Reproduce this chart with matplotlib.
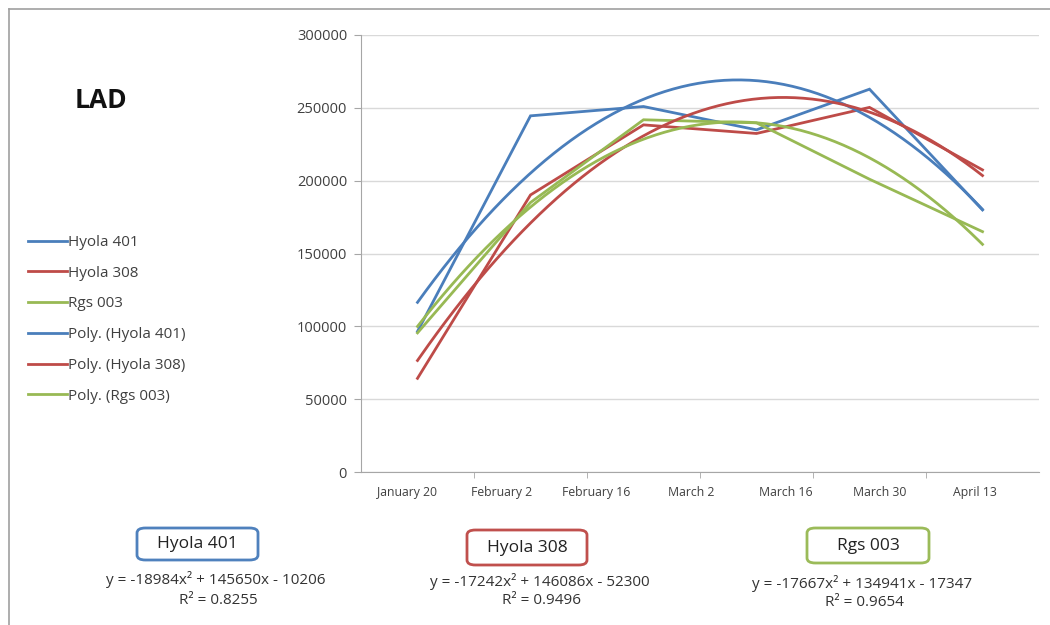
import numpy as np
import matplotlib as mpl
mpl.use('Agg')
import matplotlib.pyplot as plt
from matplotlib.patches import FancyBboxPatch
from matplotlib.lines import Line2D

# %%
# data
categories = ['January 20', 'February 2', 'February 16', 'March 2', 'March 16', 'March 30', 'April 13']
series_names = ['Hyola 401', 'Hyola 308', 'Rgs 003']
hyola_401 = [96500, 244500, 250900, 234900, 262800, 179900]
hyola_308 = [64300, 190200, 238300, 232400, 250300, 207400]
rgs_003 = [95500, 185000, 241800, 239700, 201000, 165000]
# trendline coefficients as printed on the chart (a*x^2 + b*x + c)
poly_a = [-18984, -17242, -17667]
poly_b = [145650, 146086, 134941]
poly_c = [-10206, -52300, -17347]
r_squared = ['0.8255', '0.9496', '0.9654']
colors = ['#4a7ebb', '#be4b48', '#98b954']
box_colors = ['#4f81bd', '#c0504d', '#9bbb59']

mpl.rcParams.update({'font.family': ['Open Sans', 'DejaVu Sans'],
                     'font.size': 9})
W, H = 1050, 625


def fx(px):
    return px / W


def fy(py):
    return 1 - py / H


fig = plt.figure(figsize=(10.5, 6.25), dpi=100)
ax = fig.add_axes([fx(361), fy(472), fx(1039) - fx(361), fy(35) - fy(472)])

x = np.arange(1, len(hyola_401) + 1)
xs = np.linspace(1, len(hyola_401), 200)
for vals, name, col in zip([hyola_401, hyola_308, rgs_003], series_names, colors):
    ax.plot(x, vals, '-', color=col, lw=2, label=name, solid_joinstyle='miter')
for a, b, c, name, col in zip(poly_a, poly_b, poly_c, series_names, colors):
    ax.plot(xs, a * xs ** 2 + b * xs + c, '-', color=col, lw=2, label='Poly. ({})'.format(name))

ax.set_xlim(0.5, len(hyola_401) + 0.5)
ax.set_ylim(0, 300000)
ax.set_yticks(np.arange(0, 300001, 50000))
ax.yaxis.grid(True, color='#d9d9d9', lw=1)
ax.set_axisbelow(True)
for s in ['top', 'right']:
    ax.spines[s].set_visible(False)
for s in ['left', 'bottom']:
    ax.spines[s].set_color('#a6a6a6')
ax.tick_params(axis='y', length=5, color='#a6a6a6', labelcolor='#404040', labelsize=10.5, pad=5)

# category boundary tick marks, labels spread evenly under the axis
ax.set_xticks(np.arange(1.5, len(hyola_401), 1.0), minor=True)
ax.tick_params(axis='x', which='minor', length=4, color='#a6a6a6')
ax.set_xticks(np.linspace(0.91, 5.93, len(categories)))
ax.set_xticklabels(categories)
ax.tick_params(axis='x', which='major', length=0, labelsize=8.8, labelcolor='#404040', pad=10)

ax.legend(loc='upper left', bbox_to_anchor=(fx(28), fy(235)), bbox_transform=fig.transFigure,
          frameon=False, fontsize=11, handlelength=2.55, handletextpad=0.07,
          labelspacing=1.03, borderaxespad=0, borderpad=0, labelcolor='#404040')

fig.text(fx(75), fy(100), 'LAD', fontsize=19, fontweight='bold', va='center', ha='left', color='#111111')

# outer frame (left and top edges)
fig.add_artist(Line2D([fx(9), fx(9)], [0, fy(9)], color='#a0a0a0', lw=1.2))
fig.add_artist(Line2D([fx(9), 1], [fy(9), fy(9)], color='#a0a0a0', lw=1.2))

# boxes with equations underneath
box_x = [(137, 258), (467, 587), (807, 929)]
box_y = [(528, 560), (530, 565), (528, 563)]
eq_x = [216, 540, 862]
eq_y = [580, 581, 583]
for i in range(3):
    x0, x1 = box_x[i]
    y0, y1 = box_y[i]
    fig.add_artist(FancyBboxPatch((fx(x0), fy(y1)), fx(x1) - fx(x0), fy(y0) - fy(y1),
                                  boxstyle='round,pad=0,rounding_size=0.008',
                                  transform=fig.transFigure, fc='white', ec=box_colors[i], lw=2))
    fig.text(fx((x0 + x1) / 2), fy((y0 + y1) / 2), series_names[i], ha='center', va='center',
             fontsize=12.5, color='#222222')
    sign_b = '+' if poly_b[i] >= 0 else '-'
    sign_c = '+' if poly_c[i] >= 0 else '-'
    eq = 'y = {}x\u00b2 {} {}x {} {}'.format(poly_a[i], sign_b, abs(poly_b[i]), sign_c, abs(poly_c[i]))
    fig.text(fx(eq_x[i]), fy(eq_y[i]), eq, ha='center', va='center', fontsize=11, color='#333333')
    fig.text(fx(eq_x[i] + 2), fy(eq_y[i] + 20), 'R\u00b2 = ' + r_squared[i], ha='center', va='center',
             fontsize=11, color='#333333')

fig.savefig('out.png', dpi=100)
